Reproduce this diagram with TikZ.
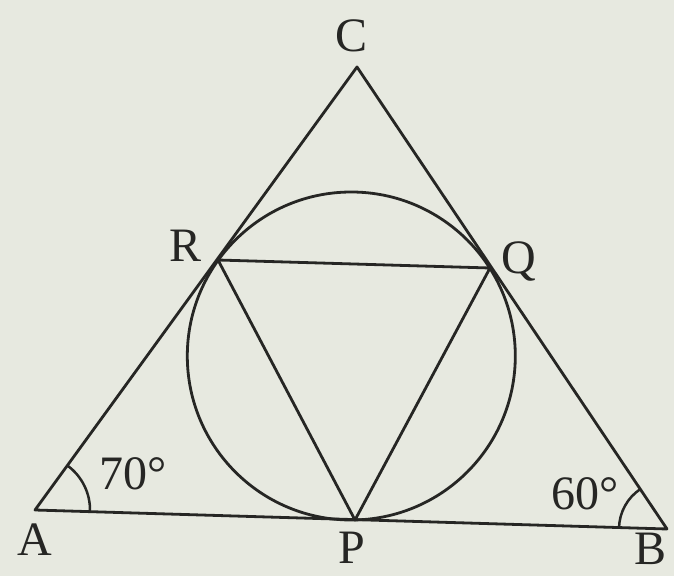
\documentclass[tikz,border=0pt]{standalone}
\usepackage{fontspec}
\setmainfont{Liberation Serif}
\usetikzlibrary{angles}
\definecolor{paper}{RGB}{231,233,224}
\definecolor{ink}{RGB}{38,38,36}
\tikzset{
  edge/.style={draw=ink, line width=2.8pt, line join=round},
  lbl/.style={text=ink, font=\fontsize{48}{56}\selectfont, inner sep=0pt},
  arcmark/.style={draw=ink, line width=2.5pt}
}
\begin{document}
\begin{tikzpicture}[x=1pt,y=1pt]
\fill[paper] (0,0) rectangle (674,576);
\useasboundingbox (0,0) rectangle (674,576);
\coordinate (A) at (35,66);
\coordinate (B) at (667,47);
\coordinate (C) at (357,509);
\coordinate (P) at (355,56);
\coordinate (Q) at (490,308);
\coordinate (R) at (218,316);
\coordinate (O) at (351.3,220);
\draw[edge] (O) circle (164);
\draw[edge] (A) -- (B) -- (C) -- cycle;
\draw[edge] (P) -- (Q) -- (R) -- cycle;
\pic[arcmark, angle radius=55pt] {angle=B--A--C};
\pic[arcmark, angle radius=48pt] {angle=C--B--A};
\node[lbl] (lA) at (35,36) {A};
\node[lbl] (lB) at (650,27) {B};
\node[lbl] (lC) at (352,540) {C};
\node[lbl] (lR) at (186,330) {R};
\node[lbl] (lQ) at (519,314) {Q};
\node[lbl] (lP) at (352,28) {P};
\node[lbl] (a70) at (133,102) {70°};
\node[lbl] (a60) at (585,82) {60°};
\end{tikzpicture}
\end{document}
